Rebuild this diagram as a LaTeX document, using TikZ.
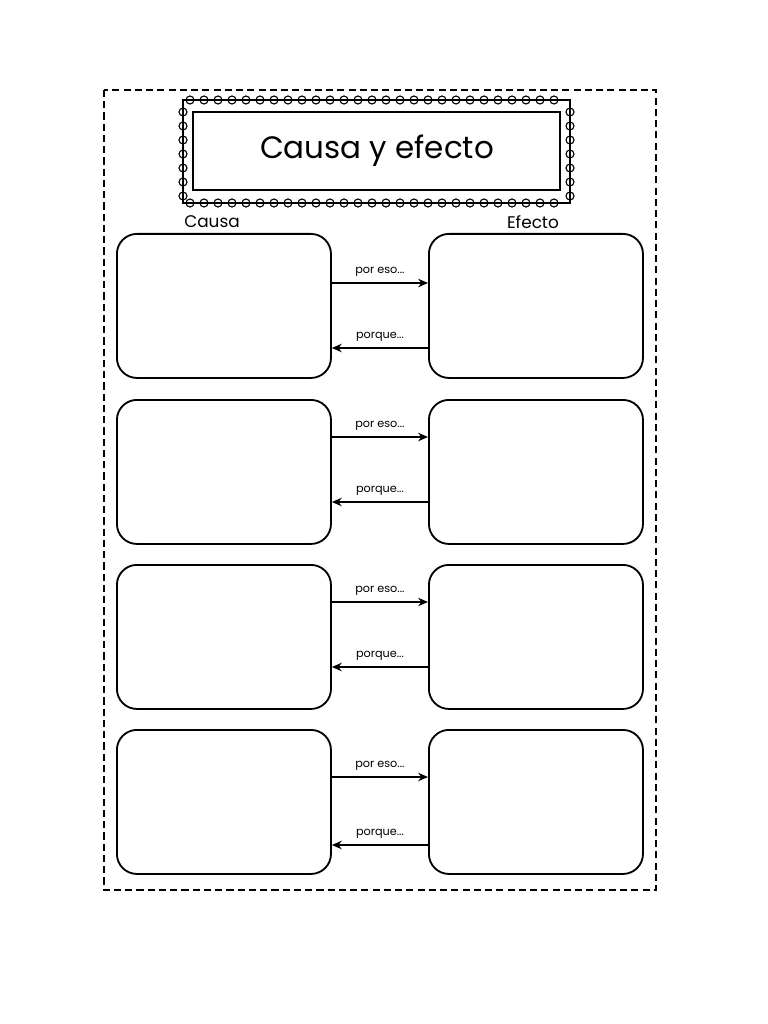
\documentclass[tikz,border=0pt]{standalone}
\usepackage{fontspec}
\setmainfont{Poppins}
\usetikzlibrary{positioning,arrows.meta,calc}

\begin{document}
\begin{tikzpicture}[x=0.025cm, y=-0.025cm,
    % Box styles
    cardbox/.style={draw=black, line width=1.3pt, rounded corners=0.5cm, minimum width=5.35cm, minimum height=3.6cm, inner sep=0pt, anchor=north west},
    % Arrow styles
    link/.style={-{Stealth[length=7pt, width=6pt]}, line width=1.3pt},
    % Text styles
    linklabel/.style={font=\footnotesize},
    head/.style={font=\large}
]
\useasboundingbox (0,0) rectangle (768,1024);

% Page frame
\draw[dash pattern=on 5pt off 3pt, line width=0.8pt] (104,90) rectangle (656,890);

% Title frame with loops
\draw[line width=1.1pt] (183,100) rectangle (570,203);
\draw[line width=1.6pt] (193,112) rectangle (560,190);
\foreach \x in {190,204,...,566} {
    \draw[line width=0.8pt] (\x,100) circle (4);
    \draw[line width=0.8pt] (\x,203) circle (4);
}
\foreach \y in {112,126,...,196} {
    \draw[line width=0.8pt] (183,\y) circle (4);
    \draw[line width=0.8pt] (570,\y) circle (4);
}
\node[font=\fontsize{22}{24}\selectfont] (title) at (377,151) {Causa y efecto};

% Column heads
\node[head] (causa) at (212,222) {Causa};
\node[head] (efecto) at (533,222) {Efecto};

% Boxes and arrows
\foreach \i/\top/\da/\db in {1/233/50/115, 2/399/38/103, 3/564/38/103, 4/729/48/116} {
    \node[cardbox] (c\i) at (116,\top) {};
    \node[cardbox] (e\i) at (428,\top) {};
    \draw[link] ($(c\i.north east)+(0,\da)$) -- ($(e\i.north west)+(0,\da)$)
        node[midway, above=1pt, linklabel] {por eso...};
    \draw[link] ($(e\i.north west)+(0,\db)$) -- ($(c\i.north east)+(0,\db)$)
        node[midway, above=1pt, linklabel] {porque...};
}

\end{tikzpicture}
\end{document}
